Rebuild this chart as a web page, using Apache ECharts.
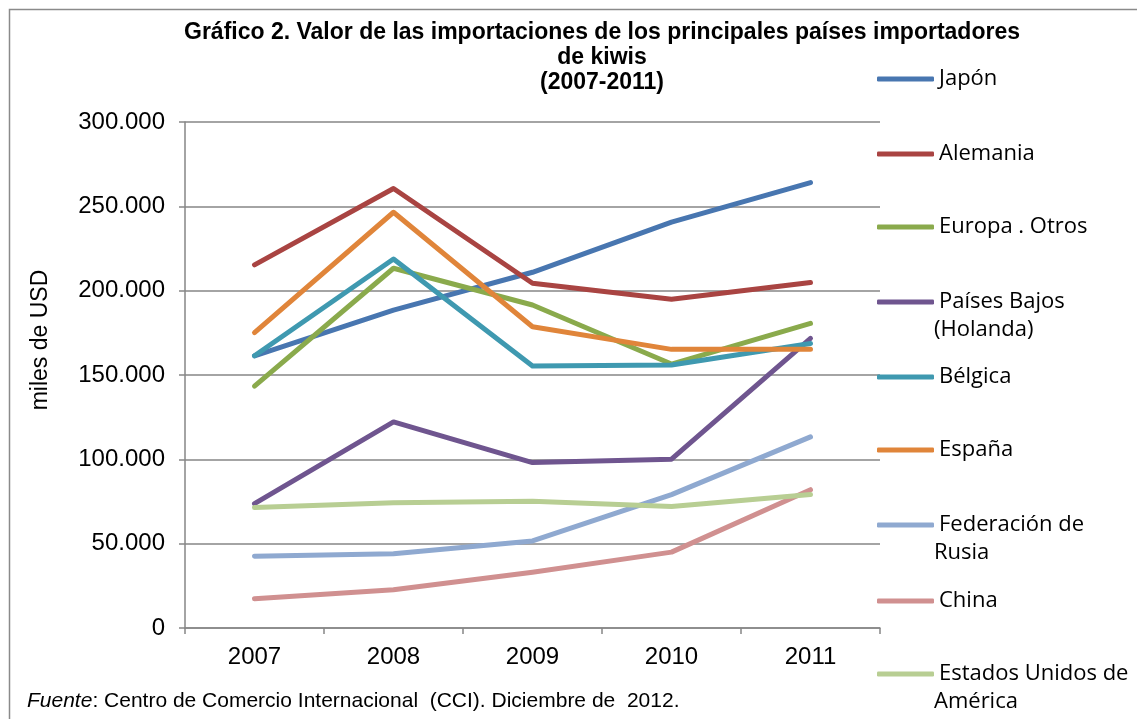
<!DOCTYPE html>
<html>
<head>
<meta charset="utf-8">
<script src="https://cdn.jsdelivr.net/npm/echarts@6/dist/echarts.min.js"></script>
<style>
  html, body { margin: 0; padding: 0; background: #fff; }
  #chart { width: 1137px; height: 719px; }
</style>
</head>
<body>
<div id="chart"></div>
<script>
// data (miles de USD)
var years = ['2007', '2008', '2009', '2010', '2011'];
var japon = [161400, 188500, 210900, 240600, 264100];
var alemania = [215300, 260600, 204400, 194900, 204800];
var europaOtros = [143400, 213300, 191500, 156500, 180600];
var paisesBajos = [73700, 122200, 98100, 100100, 171700];
var belgica = [161400, 218800, 155300, 155900, 168700];
var espana = [175100, 246500, 178600, 165200, 165200];
var rusia = [42500, 44000, 51600, 79100, 113300];
var china = [17300, 22700, 33100, 45000, 82000];
var eeuu = [71400, 74300, 75100, 72100, 79100];

var names = ['Japón', 'Alemania', 'Europa . Otros', 'Países Bajos (Holanda)', 'Bélgica',
  'España', 'Federación de Rusia', 'China', 'Estados Unidos de América'];
var values = [japon, alemania, europaOtros, paisesBajos, belgica, espana, rusia, china, eeuu];
var colors = ['#4876B0', '#A94442', '#8AAA4C', '#6F558F', '#3F99B0',
  '#E0853A', '#8FA9D0', '#D09090', '#B8CE93'];
// first line shown in the legend, second line drawn under it
var firstLine = ['Japón', 'Alemania', 'Europa . Otros', 'Países Bajos', 'Bélgica',
  'España', 'Federación de', 'China', 'Estados Unidos de'];
var secondLine = ['', '', '', '(Holanda)', '', '', 'Rusia', '', 'América'];
var legendY = [76, 151, 224, 299, 374, 447, 522, 598, 671];

var chart = echarts.init(document.getElementById('chart'));

var legends = names.map(function (n, i) {
  return {
    data: [n],
    left: 872,
    top: legendY[i] - 16,
    icon: 'roundRect',
    itemWidth: 57,
    itemHeight: 5,
    selectedMode: false,
    formatter: function () { return firstLine[i]; },
    textStyle: { fontFamily: 'Open Sans', fontSize: 22, color: '#000', lineHeight: 28 }
  };
});

var extraText = [];
secondLine.forEach(function (t, i) {
  if (t) {
    extraText.push({
      type: 'text', left: 934, top: legendY[i] + 20,
      style: { text: t, font: '22px "Open Sans"', fill: '#000' }
    });
  }
});

chart.setOption({
  animation: false,
  color: colors,
  title: {
    text: 'Gráfico 2. Valor de las importaciones de los principales países importadores\nde kiwis\n(2007-2011)',
    left: 597,
    top: 15,
    textAlign: 'center',
    textStyle: { fontFamily: 'Liberation Sans', fontWeight: 'bold', fontSize: 23, lineHeight: 25, color: '#000' }
  },
  legend: legends,
  grid: { left: 185, right: 257, top: 122, bottom: 91 },
  xAxis: {
    type: 'category',
    data: years,
    axisLine: { lineStyle: { color: '#868686', width: 1.5 } },
    axisTick: { show: true, length: 6, lineStyle: { color: '#868686', width: 1.5 } },
    axisLabel: { color: '#000', fontFamily: 'Liberation Sans', fontSize: 24, margin: 17 }
  },
  yAxis: {
    type: 'value',
    min: 0,
    max: 300000,
    interval: 50000,
    name: 'miles de USD',
    nameLocation: 'middle',
    nameGap: 133,
    nameTextStyle: { color: '#000', fontFamily: 'Liberation Sans', fontSize: 23, padding: [0, 0, 0, 70] },
    axisLine: { show: true, lineStyle: { color: '#868686', width: 1.5 } },
    axisTick: { show: true, inside: false, length: 6, lineStyle: { color: '#868686', width: 1.5 } },
    splitLine: { lineStyle: { color: '#868686', width: 1.5 } },
    axisLabel: {
      color: '#000', fontFamily: 'Liberation Sans', fontSize: 24, margin: 20,
      formatter: function (v) {
        return v === 0 ? '0' : String(v).replace(/\B(?=(\d{3})+(?!\d))/g, '.');
      }
    }
  },
  graphic: [
    {
      type: 'rect', left: 7, top: 7, silent: true,
      shape: { width: 1140, height: 720 },
      style: { fill: 'none', stroke: '#8a8a8a', lineWidth: 1.5 }
    },
    {
      type: 'text', left: 27, top: 691,
      style: {
        text: '{i|Fuente}: Centro de Comercio Internacional  (CCI). Diciembre de  2012.',
        font: '21px "Liberation Sans"', fill: '#000',
        rich: { i: { fontStyle: 'italic', fontSize: 21, fontFamily: 'Liberation Sans' } }
      }
    }
  ].concat(extraText),
  series: names.map(function (n, i) {
    return {
      name: n,
      type: 'line',
      data: values[i],
      symbol: 'none',
      lineStyle: { width: 5, cap: 'round', join: 'round' }
    };
  })
});
</script>
</body>
</html>
